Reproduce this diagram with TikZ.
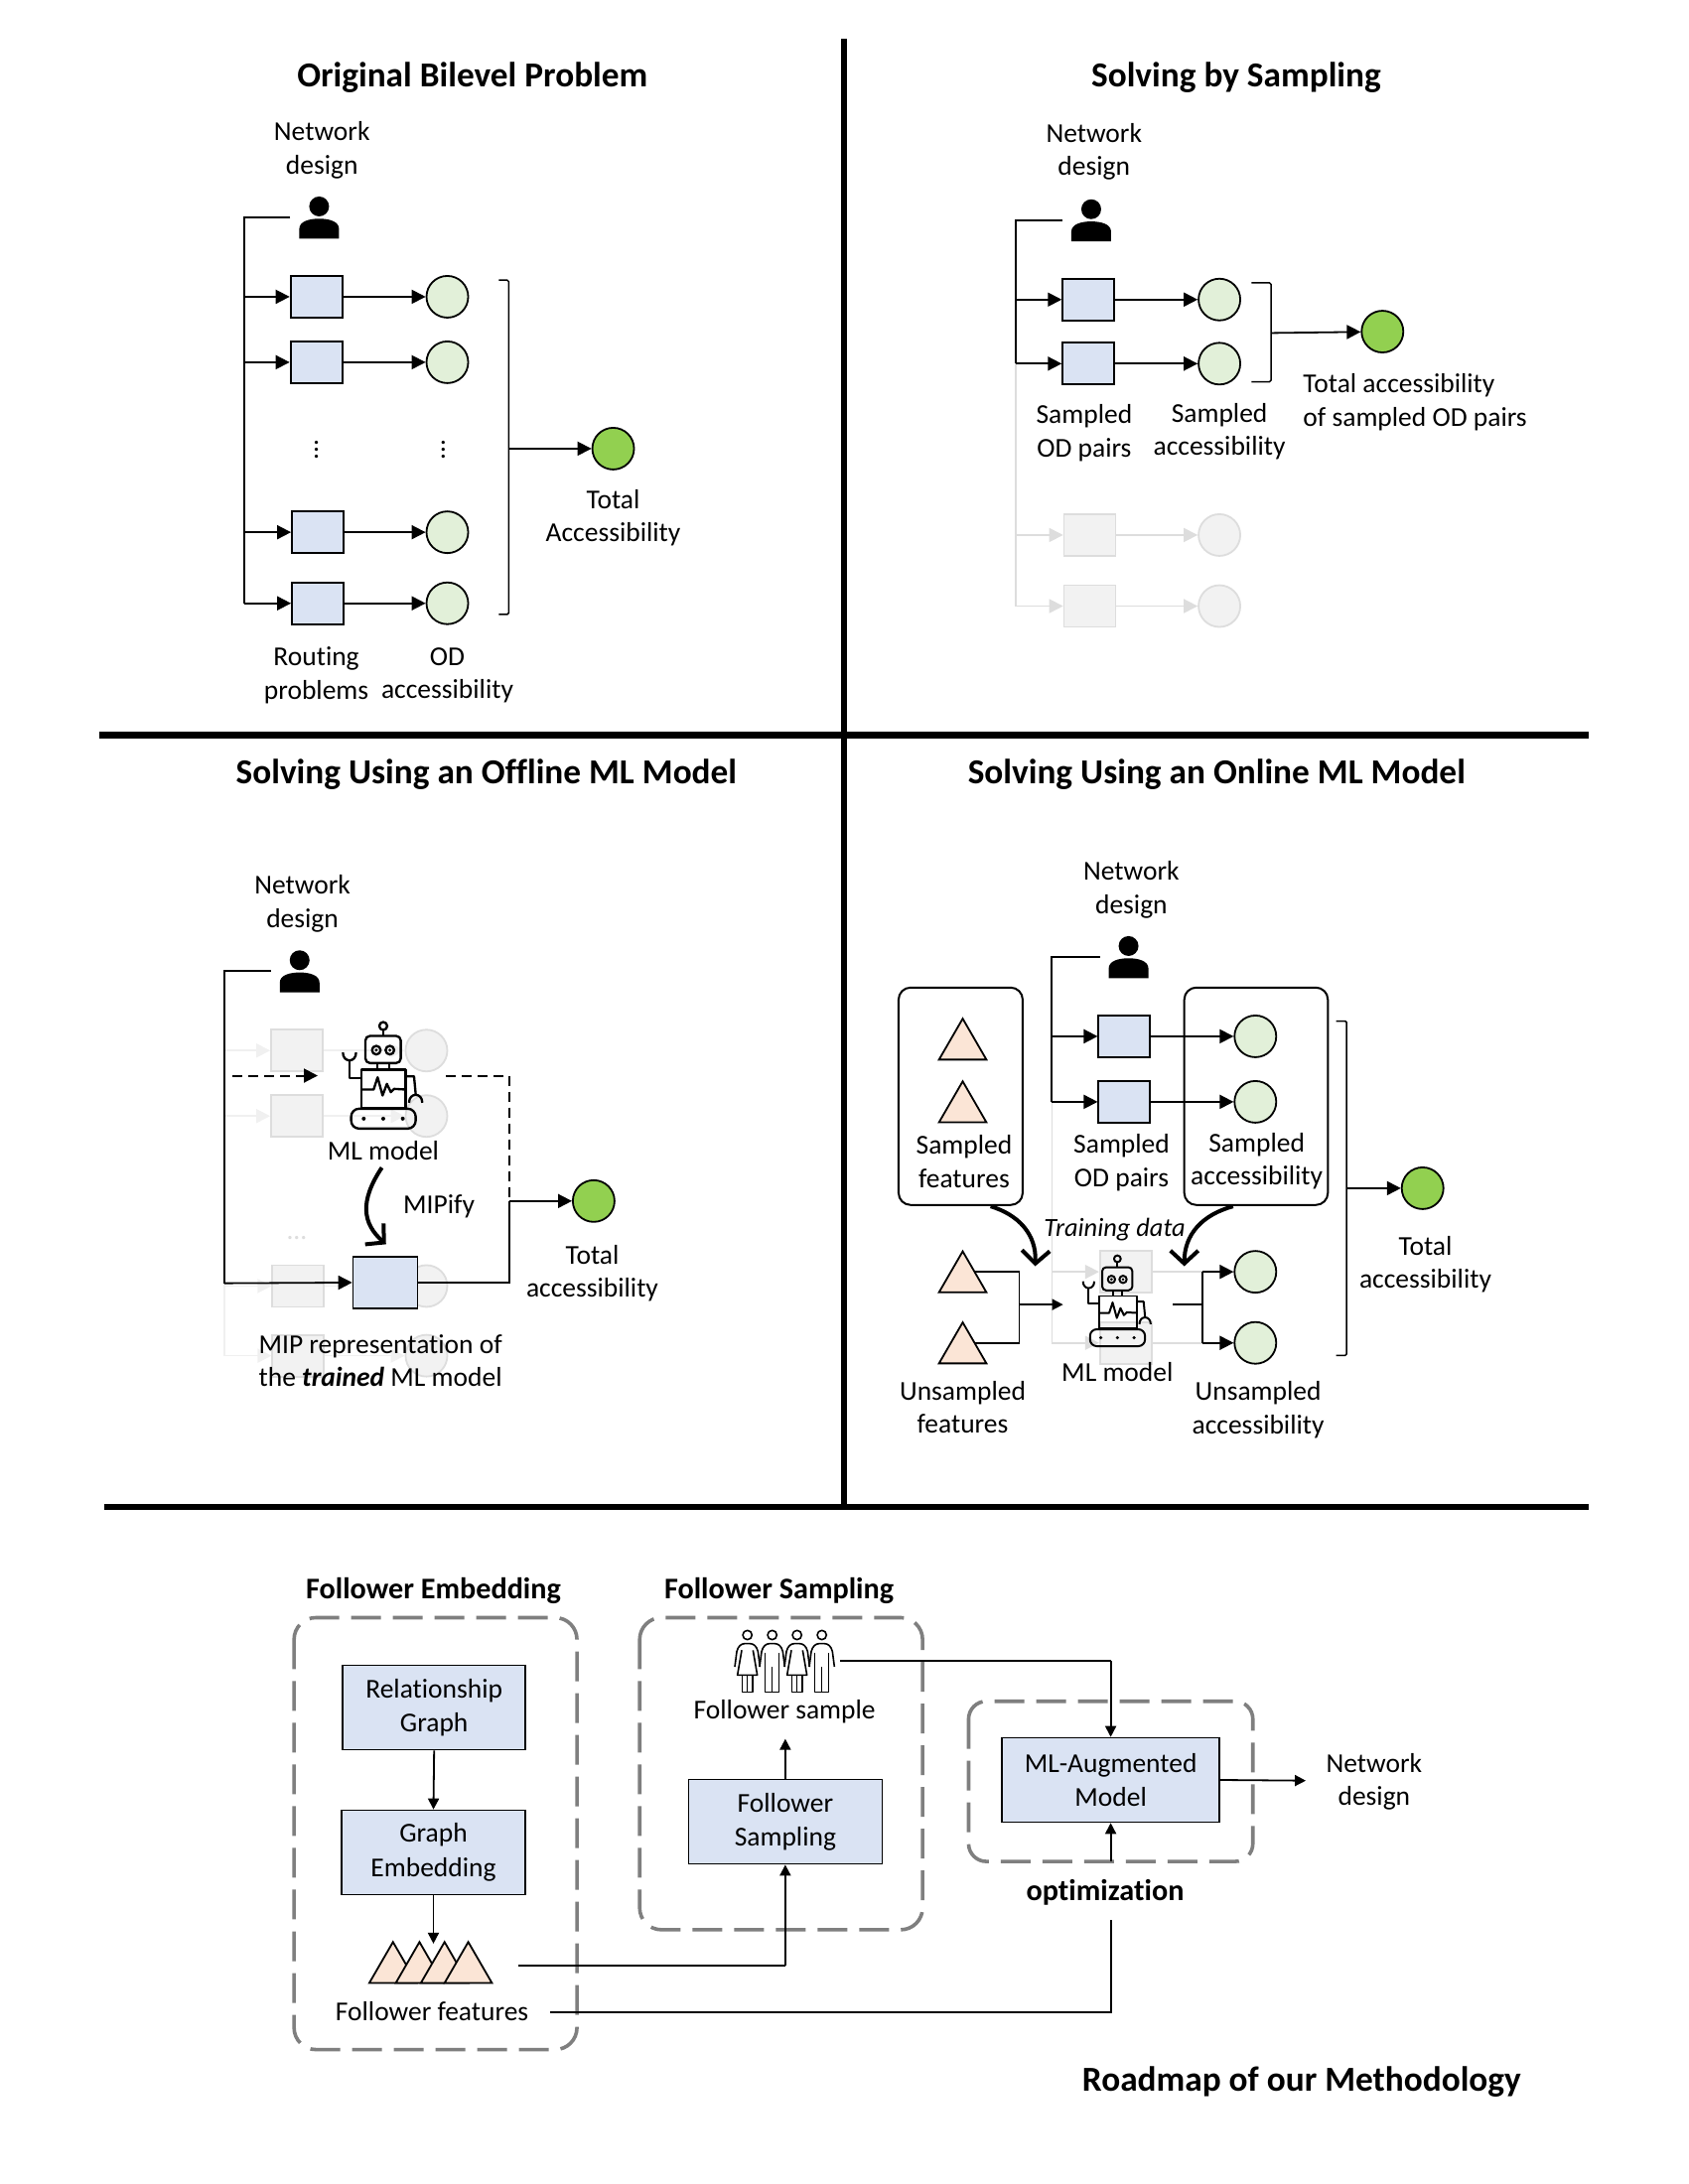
\documentclass[tikz,border=0pt]{standalone}
\usepackage{fontspec}
\setmainfont[Ligatures=NoCommon]{Carlito}
\usetikzlibrary{arrows.meta}
\definecolor{bxblue}{HTML}{DAE3F3}
\definecolor{cgreen}{HTML}{E2F0D9}
\definecolor{dgreen}{HTML}{92D050}
\definecolor{tripeach}{HTML}{FBE5D6}
\definecolor{gfill}{HTML}{F2F2F2}
\definecolor{gline}{HTML}{DDDDDD}
\definecolor{gpale}{HTML}{F0F0F0}
\definecolor{dashgray}{HTML}{7F7F7F}
\tikzset{
 lbl/.style={inner sep=0pt,align=center,yshift=-1pt,font=\fontsize{27.5}{33.5}\selectfont},
 ttl/.style={inner sep=0pt,align=center,yshift=-1.4pt,font=\fontsize{35.3}{40}\selectfont\bfseries},
 subttl/.style={inner sep=0pt,align=center,yshift=-1.4pt,font=\fontsize{30.2}{34}\selectfont\bfseries},
 bluebox/.style={rectangle,draw=black,line width=1.8pt,fill=bxblue,minimum width=52pt,minimum height=42pt,inner sep=0pt},
 textbox/.style={rectangle,draw=black,line width=1.6pt,fill=bxblue,inner sep=0pt,align=center,font=\fontsize{27.5}{33.5}\selectfont},
 lcirc/.style={circle,draw=black,line width=1.8pt,fill=cgreen,minimum size=42pt,inner sep=0pt},
 gcirc/.style={circle,draw=black,line width=1.8pt,fill=dgreen,minimum size=42pt,inner sep=0pt},
 ghostbox/.style={rectangle,draw=gline,line width=1.8pt,fill=gfill,minimum width=52pt,minimum height=42pt,inner sep=0pt},
 ghostcirc/.style={circle,draw=gline,line width=1.8pt,fill=gfill,minimum size=42pt,inner sep=0pt},
 cn/.style={draw=black,line width=1.8pt},
 arr/.style={cn,-{Triangle[length=14pt,width=14pt]}},
 sarr/.style={cn,-{Triangle[length=11pt,width=11pt]}},
 gl/.style={draw=gline,line width=1.6pt},
 garr/.style={gl,-{Triangle[length=14pt,width=14pt,color=gline]}},
 pl/.style={draw=gpale,line width=1.6pt},
 parr/.style={pl,-{Triangle[length=14pt,width=14pt,color=gpale]}},
 darr/.style={draw=black,line width=2pt,dash pattern=on 10pt off 6pt},
 bigarr/.style={draw=black,line width=4pt,-{Straight Barb[length=13pt,width=28pt,line width=4pt]}},
 brk/.style={draw=black,line width=1.5pt,rounded corners=1.5pt},
 sep/.style={draw=black,line width=6.5pt},
 dbox/.style={draw=dashgray,line width=3.6pt,dash pattern=on 30pt off 12pt,rounded corners=22pt},
 roundbox/.style={draw=black,line width=2pt,rounded corners=12pt},
 pics/person/.style={code={
  \begin{scope}[x=.3333pt,y=-.3333pt]
  \fill[black] (0,-33) circle[radius=30];
  \fill[black] (-60,64) -- (-60,35) .. controls (-60,12) and (-30,4) .. (0,4) .. controls (30,4) and (60,12) .. (60,35) -- (60,64) -- cycle;
  \end{scope}}},
 pics/robot/.style={code={
  \begin{scope}[x=#1pt,y=-#1pt,line width=#1*7pt,line join=round]
  \draw (0,-150) circle[radius=12];
  \draw (0,-138) -- (0,-120);
  \draw[rounded corners=#1*14pt] (-54,-120) rectangle (53,-38);
  \draw (-21,-77) circle[radius=13]; \draw (20,-77) circle[radius=13];
  \fill (-21,-77) circle[radius=5]; \fill (20,-77) circle[radius=5];
  \draw (-17,-38) -- (-17,-18); \draw (18,-38) -- (18,-18);
  \draw (-65,-18) rectangle (68,98);
  \draw (-65,42) -- (-29,42) -- (-17,5) -- (-2,60) -- (11,25) -- (23,50) -- (33,40) -- (68,42);
  \draw (-65,8) -- (-102,8) -- (-102,-45);
  \draw (-122,-70) .. controls (-122,-38) and (-82,-38) .. (-82,-70);
  \draw (68,2) -- (93,2) -- (98,55);
  \draw (78,82) .. controls (78,50) and (118,50) .. (118,82);
  \draw[rounded corners=#1*24pt] (-97,100) rectangle (98,160);
  \fill (-59,130) circle[radius=6]; \fill (0,130) circle[radius=6]; \fill (59,130) circle[radius=6];
  \end{scope}}},
 pics/tri/.style={code={
  \draw[draw=black,line width=1.8pt,fill=tripeach,line join=miter] (0,-14.7) -- (17,14.7) -- (-17,14.7) -- cycle;}},
 pics/female/.style={code={
  \begin{scope}[x=.3333pt,y=-.3333pt,line width=1.6pt,line join=round]
  \draw (0,-78) circle[radius=14];
  \draw (-38,18) -- (-32,-28) .. controls (-28,-45) and (-18,-52) .. (-8,-52) -- (8,-52) .. controls (18,-52) and (28,-45) .. (32,-28) -- (38,18);
  \draw (-17,-32) -- (-30,43) -- (30,43) -- (17,-32);
  \draw (-16,43) -- (-16,95) -- (16,95) -- (16,43);
  \draw (0,43) -- (0,95);
  \end{scope}}},
 pics/male/.style={code={
  \begin{scope}[x=.3333pt,y=-.3333pt,line width=1.6pt,line join=round]
  \draw (0,-78) circle[radius=14];
  \draw (-38,18) -- (-32,-28) .. controls (-28,-45) and (-18,-52) .. (-8,-52) -- (8,-52) .. controls (18,-52) and (28,-45) .. (32,-28) -- (38,18);
  \draw (-21,-25) -- (-21,95) -- (21,95) -- (21,-25);
  \draw (0,18) -- (0,95);
  \end{scope}}}
}
\begin{document}
\begin{tikzpicture}[x=1.4035pt,y=-1.4035pt]
\useasboundingbox (0,0) rectangle (1211.26,1567.5);
\fill[white] (0,0) rectangle (1211.26,1567.5);
% separators
\coordinate (s1) at (605.5,28); \coordinate (s2) at (605.5,1081.5);
\coordinate (s3) at (71,527.5); \coordinate (s4) at (1140,527.5);
\coordinate (s5) at (75,1081.5); \coordinate (s6) at (1140,1081.5);
\draw[sep] (s1) -- (s2);
\draw[sep] (s3) -- (s4);
\draw[sep] (s5) -- (s6);

%%%%%% Panel 1
\node[ttl] (t1) at (339,55) {Original Bilevel Problem};
\node[lbl] (nd1) at (231,107) {Network\\design};
\coordinate (p1) at (229,156); \pic at (p1) {person};
\coordinate (v1) at (175,156); \coordinate (v1e) at (175,433);
\node[bluebox] (b11) at (227,213) {};
\node[bluebox] (b12) at (227,260) {};
\node[bluebox] (b13) at (228,382) {};
\node[bluebox] (b14) at (228,433) {};
\node[lcirc] (c11) at (321,213) {};
\node[lcirc] (c12) at (321,260) {};
\node[lcirc] (c13) at (321,382) {};
\node[lcirc] (c14) at (321,433) {};
\draw[cn] ([xshift=-29pt]p1) -- (v1) -- (v1e);
\foreach \i in {1,2,3,4} {
 \draw[arr] (v1 |- b1\i) -- (b1\i.west);
 \draw[arr] (b1\i.east) -- (c1\i.west);
}
\node[lbl,rotate=90] (d11) at (227,322) {...};
\node[lbl,rotate=90] (d12) at (318,322) {...};
\coordinate (k1) at (365,322);
\draw[brk] (358,201) -- (365,201) -- (k1) -- (365,441) -- (358,441);
\node[gcirc] (g1) at (440,322) {};
\draw[arr] (k1) -- (g1);
\node[lbl] (l11) at (227,484) {Routing\\problems};
\node[lbl] (l12) at (321,484) {OD\\accessibility};
\node[lbl] (l13) at (440,371) {Total\\Accessibility};

%%%%%% Panel 2
\node[ttl] (t2) at (887,55) {Solving by Sampling};
\node[lbl] (nd2) at (785,108) {Network\\design};
\coordinate (p2) at (783,158); \pic at (p2) {person};
\coordinate (v2) at (729,158); \coordinate (v2e) at (729,261); \coordinate (v2g) at (729,435);
\node[ghostbox] (b23) at (782,384) {};
\node[ghostbox] (b24) at (782,435) {};
\node[ghostcirc] (c23) at (875,384) {};
\node[ghostcirc] (c24) at (875,435) {};
\draw[gl] (v2e) -- (v2g);
\draw[garr] (v2 |- b23) -- (b23.west);
\draw[garr] (v2 |- b24) -- (b24.west);
\draw[garr] (b23.east) -- (c23.west);
\draw[garr] (b24.east) -- (c24.west);
\node[bluebox] (b21) at (781,215) {};
\node[bluebox] (b22) at (781,261) {};
\node[lcirc] (c21) at (875,215) {};
\node[lcirc] (c22) at (875,261) {};
\draw[cn] ([xshift=-29pt]p2) -- (v2) -- (v2e);
\draw[arr] (v2 |- b21) -- (b21.west);
\draw[arr] (v2 |- b22) -- (b22.west);
\draw[arr] (b21.east) -- (c21.west);
\draw[arr] (b22.east) -- (c22.west);
\coordinate (k2) at (912,239);
\draw[brk] (898,203) -- (912,203) -- (k2) -- (912,274) -- (898,274);
\node[gcirc] (g2) at (992,238) {};
\draw[arr] (k2) -- (g2);
\node[lbl] (l21) at (778,310) {Sampled\\OD pairs};
\node[lbl] (l22) at (875,309) {Sampled\\accessibility};
\node[lbl,align=left,anchor=west] (l23) at (935,288) {Total accessibility\\of sampled OD pairs};

%%%%%% Panel 3
\node[ttl] (t3) at (349,555) {Solving Using an Offline ML Model};
\node[lbl] (nd3) at (217,648) {Network\\design};
\coordinate (p3) at (215,697); \pic at (p3) {person};
\coordinate (v3) at (161,697); \coordinate (v3e) at (161,921); \coordinate (v3g) at (161,973);
\node[ghostbox] (b31) at (213,754) {};
\node[ghostbox] (b32) at (213,801) {};
\node[ghostbox] (b33) at (214,923) {};
\node[ghostbox] (b34) at (214,973) {};
\node[ghostcirc] (c31) at (306,754) {};
\node[ghostcirc] (c32) at (306,801) {};
\node[ghostcirc] (c33) at (306,923) {};
\node[ghostcirc] (c34) at (306,973) {};
\draw[pl] (v3e) -- (v3g);
\foreach \i in {1,2,3,4} {
 \draw[parr] (v3 |- b3\i) -- (b3\i.west);
 \draw[parr] (b3\i.east) -- (c3\i.west);
}
\node[lbl,text=gline] (dd3) at (213,888) {...};
\node[bluebox,minimum width=65pt,minimum height=52pt] (b3) at (276.5,920.5) {};
\draw[cn] ([xshift=-29pt]p3) -- (v3) -- (v3e);
\draw[arr] (v3e) -- (b3.west);
\coordinate (r3) at (275,772); \pic at (r3) {robot=.3333};
\coordinate (dl) at (167,772); \coordinate (dla) at (228,772);
\coordinate (dr) at (320,772); \coordinate (drc) at (365.5,772); \coordinate (j3) at (365.5,862);
\draw[darr,-{Triangle[length=14pt,width=14pt]}] (dl) -- (dla);
\draw[darr] (dr) -- (drc) -- (j3);
\node[gcirc] (g3) at (426,862) {};
\draw[cn] (b3.east) -- (b3.east -| j3) -- (j3);
\draw[arr] (j3) -- (g3);
\node[lbl] (l31) at (275,825) {ML model};
\node[lbl] (l32) at (315,865) {MIPify};
\coordinate (ma) at (274,838); \coordinate (mb) at (277,893);
\draw[bigarr] (ma) .. controls (258,862) and (260,878) .. (mb);
\node[lbl] (l33) at (273,976) {MIP representation of\\the \textbf{\textit{trained}} ML model};
\node[lbl] (l34) at (425,913) {Total\\accessibility};

%%%%%% Panel 4
\node[ttl] (t4) at (873,555) {Solving Using an Online ML Model};
\begin{scope}[shift={(0.8,0.8)}]
\node[lbl] (nd4) at (811,637) {Network\\design};
\coordinate (p4) at (809,686); \pic at (p4) {person};
\coordinate (v4) at (754,686); \coordinate (v4e) at (754,790); \coordinate (v4g) at (754,963);
\node[ghostbox] (b43) at (807,912) {};
\node[ghostbox] (b44) at (807,963) {};
\draw[gl] (v4e) -- (v4g);
\draw[garr] (v4 |- b43) -- (b43.west);
\draw[garr] (v4 |- b44) -- (b44.west);
\draw[gl] (b43.east) -- (862,912);
\draw[gl] (b44.east) -- (862,963);
\node[bluebox] (b41) at (806,743) {};
\node[bluebox] (b42) at (806,790) {};
\node[lcirc] (c41) at (900,743) {};
\node[lcirc] (c42) at (900,790) {};
\node[lcirc] (c43) at (900,912) {};
\node[lcirc] (c44) at (900,963) {};
\draw[roundbox] (644,708) rectangle (733,864);
\draw[roundbox] (849,708) rectangle (952,864);
\draw[cn] ([xshift=-29pt]p4) -- (v4) -- (v4e);
\draw[arr] (v4 |- b41) -- (b41.west);
\draw[arr] (v4 |- b42) -- (b42.west);
\draw[arr] (b41.east) -- (c41.west);
\draw[arr] (b42.east) -- (c42.west);
\coordinate (t41) at (690,745); \pic at (t41) {tri};
\coordinate (t42) at (690,790); \pic at (t42) {tri};
\coordinate (t43) at (690,912); \coordinate (t44) at (690,963);
\coordinate (ja) at (730.5,912); \coordinate (jb) at (730.5,963); \coordinate (jm) at (730.5,935.5);
\coordinate (in4) at (762,935.5);
\draw[cn] (t43) -- (ja) -- (jb) -- (t44);
\pic at (t43) {tri}; \pic at (t44) {tri};
\draw[sarr] (jm) -- (in4);
\coordinate (r4) at (801,933); \pic at (r4) {robot=.284};
\coordinate (o4) at (841,935.5); \coordinate (jo) at (862,935.5);
\draw[cn] (o4) -- (jo);
\coordinate (ju) at (862,912); \coordinate (jd) at (862,963);
\draw[cn] (ju) -- (jd);
\draw[arr] (ju) -- (c43.west);
\draw[arr] (jd) -- (c44.west);
\coordinate (k4) at (965.5,852);
\draw[brk] (958,732) -- (965.5,732) -- (k4) -- (965.5,972) -- (958,972);
\node[gcirc] (g4) at (1020,852) {};
\draw[arr] (k4) -- (g4);
\coordinate (fa) at (710,865); \coordinate (fb) at (742,908);
\coordinate (fc) at (884,865); \coordinate (fd) at (849,908);
\draw[bigarr] (fa) .. controls (730,871) and (743,885) .. (fb);
\draw[bigarr] (fc) .. controls (862,871) and (849,885) .. (fd);
\node[lbl] (l41) at (691,832) {Sampled\\features};
\node[lbl] (l42) at (804,833) {Sampled\\OD pairs};
\node[lbl] (l43) at (901,832) {Sampled\\accessibility};
\node[lbl,font=\fontsize{26.4}{33.5}\selectfont\itshape] (l44) at (799,881) {Training data};
\node[lbl] (l45) at (801,983) {ML model};
\node[lbl] (l46) at (690,1008.5) {Unsampled\\features};
\node[lbl] (l47) at (902,1010.5) {Unsampled\\accessibility};
\node[lbl] (l48) at (1022,906) {Total\\accessibility};
\end{scope}

%%%%%% Roadmap
\node[subttl] (t5) at (311,1141) {Follower Embedding};
\node[subttl] (t6) at (559,1141) {Follower Sampling};
\draw[dbox] (211,1161) rectangle (414,1471);
\draw[dbox] (459,1161) rectangle (662,1385);
\draw[dbox,rounded corners=18pt] (695,1221) rectangle (899,1336);
\node[textbox,minimum width=184pt,minimum height=85pt] (rg) at (311.5,1225.5) {Relationship\\[1pt]Graph};
\node[textbox,minimum width=185pt,minimum height=85pt] (ge) at (311,1329.5) {Graph\\[1pt]Embedding};
\node[textbox,minimum width=195pt,minimum height=85pt] (fs) at (563.5,1307.5) {Follower\\[1pt]Sampling};
\node[textbox,minimum width=219pt,minimum height=85pt] (ma2) at (797,1277.5) {ML-Augmented\\[1pt]Model};
\coordinate (ff1) at (282,1408.5); \coordinate (ff2) at (301,1408.5); \coordinate (ff3) at (319,1408.5); \coordinate (ff4) at (336,1408.5);
\pic at (ff1) {tri}; \pic at (ff2) {tri}; \pic at (ff3) {tri}; \pic at (ff4) {tri};
\coordinate (fft) at (311,1395);
\draw[sarr] (ge.south) -- (fft);
\draw[sarr] (rg.south) -- (ge.north);
\node[lbl] (ffl) at (310,1443) {Follower features};
\coordinate (fp) at (563,1192);
\pic at ([xshift=-37.5pt]fp) {female}; \pic at ([xshift=-12.5pt]fp) {male};
\pic at ([xshift=12.5pt]fp) {female}; \pic at ([xshift=37.5pt]fp) {male};
\node[lbl] (fsl) at (563,1228) {Follower sample};
\coordinate (fsa) at (563.5,1248);
\draw[sarr] (fs.north) -- (fsa);
\coordinate (f1) at (372,1411); \coordinate (f1c) at (563.5,1411);
\draw[cn] (f1) -- (f1c);
\draw[sarr] (f1c) -- (fs.south);
\coordinate (f2) at (395,1444); \coordinate (f2c) at (797,1444); \coordinate (f2e) at (797,1378);
\draw[cn] (f2) -- (f2c) -- (f2e);
\coordinate (f3) at (797,1336);
\draw[sarr] (f3) -- (ma2.south);
\coordinate (f4) at (603,1192); \coordinate (f4c) at (797,1192);
\draw[cn] (f4) -- (f4c);
\draw[sarr] (f4c) -- (ma2.north);
\node[lbl] (nd5) at (986,1278) {Network\\design};
\coordinate (out) at (937,1278);
\draw[sarr] (ma2.east) -- (out);
\node[subttl] (op) at (793,1357) {optimization};
\node[ttl] (t7) at (934,1493) {Roadmap of our Methodology};
\end{tikzpicture}
\end{document}
